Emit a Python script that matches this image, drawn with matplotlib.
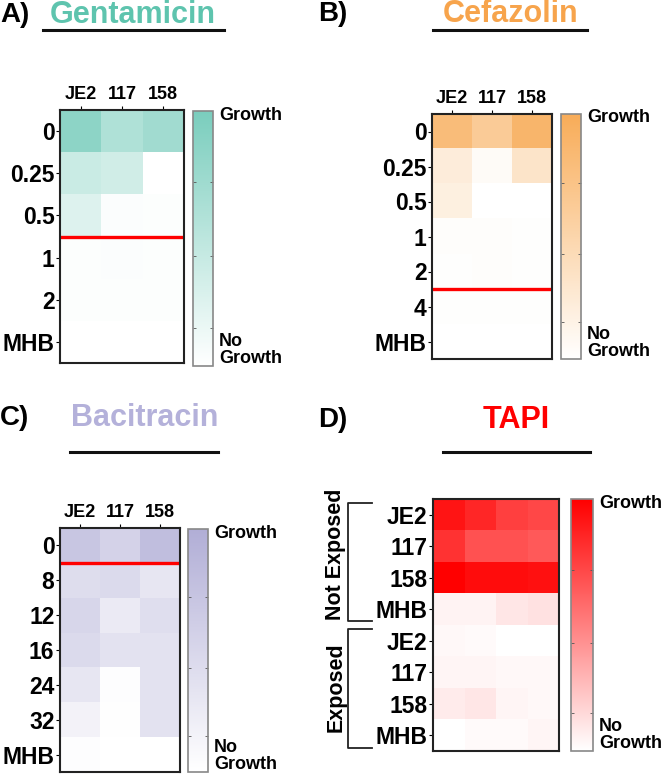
import numpy as np
import matplotlib
matplotlib.use("Agg")
import matplotlib.pyplot as plt
from matplotlib.colors import LinearSegmentedColormap
from matplotlib.lines import Line2D

plt.rcParams['font.family'] = ['Liberation Sans', 'DejaVu Sans']
plt.rcParams['font.weight'] = 'bold'

W, H = 666, 777

# data (0 = no growth, 1 = growth)
strains = ["JE2", "117", "158"]

gent_conc = ["0", "0.25", "0.5", "1", "2", "MHB"]
gent_vals = [[0.85, 0.60, 0.70],
             [0.40, 0.35, 0.00],
             [0.25, 0.03, 0.02],
             [0.02, 0.03, 0.02],
             [0.02, 0.02, 0.02],
             [0.00, 0.00, 0.00]]

cef_conc = ["0", "0.25", "0.5", "1", "2", "4", "MHB"]
cef_vals = [[0.80, 0.62, 0.88],
            [0.22, 0.05, 0.32],
            [0.18, 0.00, 0.00],
            [0.02, 0.02, 0.01],
            [0.01, 0.02, 0.01],
            [0.01, 0.01, 0.01],
            [0.00, 0.00, 0.00]]

bac_conc = ["0", "8", "12", "16", "24", "32", "MHB"]
bac_vals = [[0.70, 0.55, 0.80],
            [0.42, 0.45, 0.30],
            [0.50, 0.25, 0.40],
            [0.45, 0.35, 0.35],
            [0.30, 0.02, 0.35],
            [0.15, 0.01, 0.35],
            [0.02, 0.00, 0.00]]

tapi_rows = ["JE2", "117", "158", "MHB", "JE2", "117", "158", "MHB"]
tapi_vals = [[0.92, 0.85, 0.75, 0.72],
             [0.80, 0.68, 0.68, 0.65],
             [1.00, 0.95, 0.95, 0.93],
             [0.05, 0.05, 0.10, 0.12],
             [0.03, 0.02, 0.00, 0.00],
             [0.04, 0.04, 0.03, 0.03],
             [0.08, 0.10, 0.04, 0.03],
             [0.00, 0.02, 0.02, 0.04]]


def rect(x0, y0, x1, y1):
    return [x0 / W, 1 - y1 / H, (x1 - x0) / W, (y1 - y0) / H]


def fx(x):
    return x / W


def fy(y):
    return 1 - y / H


fig = plt.figure(figsize=(W / 100, H / 100), dpi=100)


def panel(vals, ylabels, xlabels, color, heat_px, cbar_px, red_at=None):
    cmap = LinearSegmentedColormap.from_list("c", ["#ffffff", color])
    ax = fig.add_axes(rect(*heat_px))
    im = ax.imshow(np.array(vals), cmap=cmap, vmin=0, vmax=1, aspect='auto',
                   interpolation='nearest')
    ax.set_yticks(range(len(ylabels)))
    ax.set_yticklabels(ylabels, fontsize=16.5, fontweight='bold')
    ax.tick_params(axis='y', length=3, width=0.8, pad=1)
    if xlabels:
        ax.set_xticks(range(len(xlabels)))
        ax.set_xticklabels(xlabels, fontsize=13, fontweight='bold')
        ax.xaxis.tick_top()
        ax.tick_params(axis='x', length=3, width=0.8, pad=2)
    else:
        ax.set_xticks([])
    for s in ax.spines.values():
        s.set_linewidth(1.5)
        s.set_color('#222222')
    if red_at is not None:
        ax.axhline(red_at - 0.5, color='#ff0000', lw=2.4)
    cax = fig.add_axes(rect(*cbar_px))
    cb = fig.colorbar(im, cax=cax)
    cb.outline.set_edgecolor('#888888')
    cb.outline.set_linewidth(1.2)
    cb.set_ticks([0.15, 0.43, 0.72])
    cax.tick_params(axis='y', which='both', length=2, width=0.6, direction='in',
                    left=True, right=True, labelright=False, color='#555555')
    x_txt = fx(cbar_px[2] + 6)
    fig.text(x_txt, fy(cbar_px[1] + 4), "Growth", fontsize=13,
             fontweight='bold', va='center', ha='left')
    fig.text(x_txt, fy(cbar_px[3] - 16), "No\nGrowth", fontsize=13,
             fontweight='bold', va='center', ha='left', linespacing=1.05)
    return ax


def header(letter, lx, name, color, cx, ty, ux0, ux1, uy):
    fig.text(fx(lx), fy(ty), letter, fontsize=20, fontweight='bold',
             va='center', ha='left')
    fig.text(fx(cx), fy(ty), name, fontsize=22, fontweight='bold',
             color=color, va='center', ha='center')
    fig.add_artist(Line2D([fx(ux0), fx(ux1)], [fy(uy), fy(uy)], color='#111111',
                          lw=2.2, transform=fig.transFigure))


gent_col = "#7acdbd"
cef_col = "#f8ac58"
bac_col = "#b1aed6"
tapi_col = "#ff0000"

panel(gent_vals, gent_conc, strains, gent_col, (60, 110, 184, 363), (193, 111, 213, 366), red_at=3)
header("A)", 0, "Gentamicin", "#5ec4ae", 133, 15, 43, 224, 30)

panel(cef_vals, cef_conc, strains, cef_col, (432, 114, 552, 359), (561, 114, 581, 359), red_at=5)
header("B)", 318, "Cefazolin", "#f7a44c", 511, 14, 433, 587, 30)

panel(bac_vals, bac_conc, strains, bac_col, (60, 528, 180, 772), (188, 529, 208, 772), red_at=1)
header("C)", 0, "Bacitracin", "#b4b1da", 145, 418, 70, 218, 452)

panel(tapi_vals, tapi_rows, None, tapi_col, (433, 499, 559, 751), (571, 499, 593, 751))
header("D)", 318, "TAPI", "#ff0000", 516, 420, 443, 590, 452)

# brackets for exposure groups
for y0, y1 in [(503, 621), (629, 748)]:
    xs = [fx(372), fx(348), fx(348), fx(372)]
    ys = [fy(y0), fy(y0), fy(y1), fy(y1)]
    fig.add_artist(Line2D(xs, ys, color='#222222', lw=1.3, transform=fig.transFigure))
fig.text(fx(336), fy(554), "Not Exposed", rotation=90, fontsize=15.5,
         fontweight='bold', va='center', ha='center')
fig.text(fx(336), fy(687), "Exposed", rotation=90, fontsize=15.5,
         fontweight='bold', va='center', ha='center')

fig.savefig("out.png", dpi=100)
